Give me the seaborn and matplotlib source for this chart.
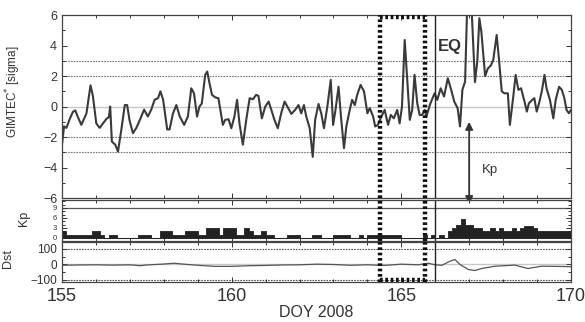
import numpy as np
import pandas as pd
import matplotlib
matplotlib.use("Agg")
import matplotlib.pyplot as plt
import matplotlib.ticker as mticker
import seaborn as sns

# GIMTEC* anomaly (sigma)
gim_doy = [155.00, 155.06, 155.13, 155.23, 155.32, 155.39, 155.47, 155.57, 155.72, 155.84,
           155.91, 156.01, 156.11, 156.21, 156.31, 156.38, 156.42, 156.47, 156.57, 156.65,
           156.75, 156.85, 156.92, 156.99, 157.09, 157.19, 157.29, 157.42, 157.53, 157.63,
           157.73, 157.83, 157.90, 157.98, 158.10, 158.17, 158.27, 158.37, 158.47, 158.60,
           158.71, 158.81, 158.89, 158.98, 159.05, 159.12, 159.22, 159.28, 159.35, 159.42,
           159.52, 159.61, 159.74, 159.81, 159.91, 159.99, 160.08, 160.16, 160.23, 160.33,
           160.43, 160.53, 160.63, 160.72, 160.79, 160.89, 160.99, 161.09, 161.17, 161.26,
           161.36, 161.46, 161.56, 161.64, 161.76, 161.87, 161.97, 162.05, 162.13, 162.20,
           162.30, 162.39, 162.46, 162.56, 162.64, 162.72, 162.82, 162.92, 162.99, 163.06,
           163.15, 163.23, 163.31, 163.38, 163.48, 163.55, 163.63, 163.70, 163.80, 163.90,
           164.00, 164.07, 164.17, 164.23, 164.31, 164.41, 164.51, 164.61, 164.69, 164.78,
           164.88, 164.95, 165.02, 165.10, 165.18, 165.25, 165.32, 165.39, 165.47, 165.54,
           165.61, 165.69, 165.74, 165.84, 165.90, 165.98, 166.06, 166.16, 166.26, 166.37,
           166.47, 166.56, 166.66, 166.73, 166.80, 166.88, 166.97, 167.06, 167.17, 167.24,
           167.30, 167.36, 167.47, 167.55, 167.64, 167.71, 167.81, 167.88, 167.96, 168.04,
           168.14, 168.20, 168.30, 168.37, 168.45, 168.53, 168.63, 168.70, 168.76, 168.84,
           168.92, 168.99, 169.06, 169.14, 169.22, 169.28, 169.38, 169.48, 169.55, 169.65,
           169.73, 169.80, 169.87, 169.94, 170.00]
gim_val = [-2.5, -1.3, -1.4, -0.8, -0.35, -0.25, -0.7, -1.2, -0.45, 1.4,
           0.7, -1.1, -1.4, -1.1, -0.8, -0.7, 0.0, -2.3, -2.5, -2.95,
           -1.5, 0.1, 0.1, -0.9, -1.75, -1.4, -0.9, -0.2, -0.65, -0.2,
           0.45, 0.55, 1.0, 0.45, -1.5, -1.5, -0.45, 0.1, -0.65, -1.2,
           -0.65, 1.2, 0.87, -0.66, 0.0, 0.2, 2.08, 2.3, 1.5, 0.77,
           0.6, 0.55, -1.2, -0.87, -0.83, -1.42, -0.66, 0.44, -1.1, -2.5,
           -0.87, 0.55, 0.48, 0.77, 0.7, -0.77, 0.0, 0.33, -0.22, -0.87,
           -1.42, -0.44, 0.33, 0.0, -0.48, -0.22, 0.1, -0.44, 0.1, -0.66,
           -1.42, -3.3, -0.87, 0.17, -0.44, -1.42, 0.0, 1.75, -1.2, -0.22,
           1.3, -0.87, -2.73, -1.3, -0.22, 0.44, 0.1, 0.77, 1.42, 1.0,
           -0.44, -0.1, -0.66, -1.3, -1.2, -0.66, -0.22, -1.2, -0.55, -0.77,
           -0.22, -1.1, 0.0, 4.37, 1.53, -0.87, -0.22, 2.08, 0.22, -0.55,
           -0.55, -0.22, -0.66, 0.1, 0.44, 0.87, 0.44, 1.2, 0.66, 1.86,
           1.1, 0.33, -0.1, -1.3, 1.1, 1.64, 9.0, 7.0, 1.6, 3.0,
           5.8, 4.9, 2.0, 2.5, 2.7, 3.06, 4.7, 3.06, 1.0, 0.87,
           0.87, -1.2, 0.66, 2.08, 1.1, 1.2, 0.33, -0.33, 0.22, 0.4,
           0.55, -0.33, 0.22, 1.0, 2.08, 1.2, 0.44, -0.77, 0.44, 1.3,
           1.1, 0.6, -0.22, -0.44, -0.22]

# Kp index, 3-hourly bins starting at DOY 155.0
kp_start = [155 + i / 8 for i in range(120)]
kp_val = [2, 1, 1, 1, 1, 1, 1, 2,
          2, 1, 0, 1, 1, 0, 0, 0,
          0, 0, 1, 1, 1, 0, 0, 2,
          2, 2, 1, 1, 1, 2, 2, 2,
          1, 1, 3, 3, 3, 1, 3, 3,
          3, 1, 1, 3, 2, 1, 1, 2,
          1, 1, 0, 0, 0, 1, 1, 1,
          0, 0, 0, 1, 1, 0, 0, 0,
          1, 1, 1, 1, 0, 0, 1, 0,
          1, 1, 1, 1, 1, 1, 1, 1,
          0, 0, 0, 0, 0, 1, 0, 1,
          0, 1, 0, 2, 3, 4, 5.7, 4,
          4, 3, 3, 2, 2, 3, 2, 3,
          2, 2, 3, 2, 3, 3.7, 3.7, 3,
          2, 2, 2, 2, 2, 2, 2, 2]

# Dst (nT)
dst_doy = [155.0, 155.5, 156.0, 156.5, 157.0, 157.3, 157.5, 158.0, 158.3, 158.6,
           159.0, 159.5, 160.0, 160.5, 161.0, 161.5, 162.0, 162.5, 163.0, 163.5,
           164.0, 164.5, 165.0, 165.5, 165.8, 166.0, 166.2, 166.43, 166.58, 166.73,
           166.97, 167.17, 167.37, 167.76, 168.35, 168.73, 169.13, 169.53, 170.0]
dst_val = [-5, -3, -2, -4, -2, -8, -3, 3, 8, 2,
           -5, -12, -12, -8, -6, -3, -2, 2, 0, -5,
           -2, -6, 2, -2, 8, -2, -5, 21, 32, 0,
           -32, -39, -26, -11, -4, -26, -11, -12, -14]

eq_doy = 166.0
box_doy = (164.36, 165.71)

sns.set_theme(style="ticks")
plt.rcParams["font.family"] = ["Liberation Sans", "DejaVu Sans"]

fig = plt.figure(figsize=(5.85, 3.22), dpi=100)
ax1 = fig.add_axes([0.106, 0.385, 0.870, 0.568])
ax2 = fig.add_axes([0.106, 0.2516, 0.870, 0.1273])
ax3 = fig.add_axes([0.106, 0.1242, 0.870, 0.1242])

line_c = "#3a3a3a"
grid_c = "#777777"

gim = pd.DataFrame({"doy": gim_doy, "sigma": gim_val})
sns.lineplot(data=gim, x="doy", y="sigma", color=line_c, lw=1.5, estimator=None, ax=ax1)
ax1.set_ylim(-6, 6)
for v in (-3, -2, 2, 3):
    ax1.axhline(v, color=grid_c, lw=0.8, ls=(0, (1.5, 1)), zorder=0)
ax1.axhline(0, color="#c8c8c8", lw=1.0, zorder=0)
ax1.yaxis.set_major_locator(mticker.MultipleLocator(2))
ax1.yaxis.set_minor_locator(mticker.MultipleLocator(1))
ax1.set_ylabel("GIMTEC$^{*}$ [sigma]", fontsize=8.5, color="#333333")
ax1.yaxis.set_label_coords(-0.077, 0.58)

kp = pd.DataFrame({"doy": kp_start, "kp": kp_val})
sns.histplot(data=kp, x="doy", weights="kp", binwidth=0.125, binrange=(155, 170),
             element="step", fill=True, color="#222222", alpha=1, lw=0.6, ax=ax2)
ax2.set_ylim(-0.9, 11.4)
ax2.axhline(9, color="#555555", lw=0.9, zorder=0)
ax2.axhline(0, color="#555555", lw=0.8, ls=(0, (1.5, 1)), zorder=0)
ax2.set_yticks([0, 3, 6, 9])
ax2.yaxis.set_minor_locator(mticker.MultipleLocator(1))
ax2.set_ylabel("Kp", fontsize=9, color="#333333")
ax2.yaxis.set_label_coords(-0.063, 0.56)

dst = pd.DataFrame({"doy": dst_doy, "dst": dst_val})
sns.lineplot(data=dst, x="doy", y="dst", color="#555555", lw=0.9, estimator=None, ax=ax3)
ax3.set_ylim(-113, 145)
ax3.axhline(0, color="#c8c8c8", lw=1.0, zorder=0)
for v in (-100, 100):
    ax3.axhline(v, color="#555555", lw=0.8, ls=(0, (1.5, 1)), zorder=0)
ax3.set_yticks([-100, 0, 100])
ax3.yaxis.set_minor_locator(mticker.MultipleLocator(50))
ax3.set_ylabel("Dst", fontsize=9, color="#333333")
ax3.yaxis.set_label_coords(-0.094, 0.6)

for ax in (ax1, ax2, ax3):
    ax.set_xlim(155, 170)
    ax.xaxis.set_major_locator(mticker.MultipleLocator(5))
    ax.xaxis.set_minor_locator(mticker.MultipleLocator(1))
    ax.tick_params(which="both", direction="in", top=True, right=True,
                   colors="#333333", width=0.7)
    ax.tick_params(which="major", length=3.5)
    ax.tick_params(which="minor", length=2)
    for s in ax.spines.values():
        s.set_color("#444444")
        s.set_linewidth(0.9)
    ax.axvline(eq_doy, color="#222222", lw=1.0)
    for x in box_doy:
        ax.axvline(x, color="#111111", lw=3.2, ls=(0, (0.6, 0.6)), zorder=5)
    if ax is not ax3:
        ax.set_xlabel("")
        ax.tick_params(labelbottom=False)

ax1.tick_params(labelsize=9, labelcolor="#333333")
ax2.tick_params(labelsize=5.5, labelcolor="#333333")
ax3.tick_params(axis="y", labelsize=8.5, labelcolor="#333333")
ax3.tick_params(axis="x", labelsize=13, labelcolor="#333333", pad=4)
ax3.set_xlabel("DOY 2008", fontsize=11.5, color="#333333", labelpad=0)

ax1.hlines(5.9, box_doy[0], box_doy[1], color="#111111", lw=3.2, ls=(0, (0.6, 0.6)), zorder=5)
ax3.hlines(-100, box_doy[0], box_doy[1], color="#111111", lw=3.2, ls=(0, (0.6, 0.6)), zorder=5)

ax1.text(166.08, 3.92, "EQ", fontsize=12, fontweight="bold", color="#333333",
         va="center", ha="left")
ax1.annotate("", xy=(167.0, -6.4), xytext=(167.0, -1.0), annotation_clip=False,
             arrowprops=dict(arrowstyle="<|-|>", color="#333333", lw=1.3,
                             mutation_scale=11, shrinkA=0, shrinkB=0))
ax1.text(167.62, -4.13, "Kp", fontsize=9.5, color="#333333", va="center", ha="center")

fig.savefig("out.png", dpi=100)
plt.close(fig)
